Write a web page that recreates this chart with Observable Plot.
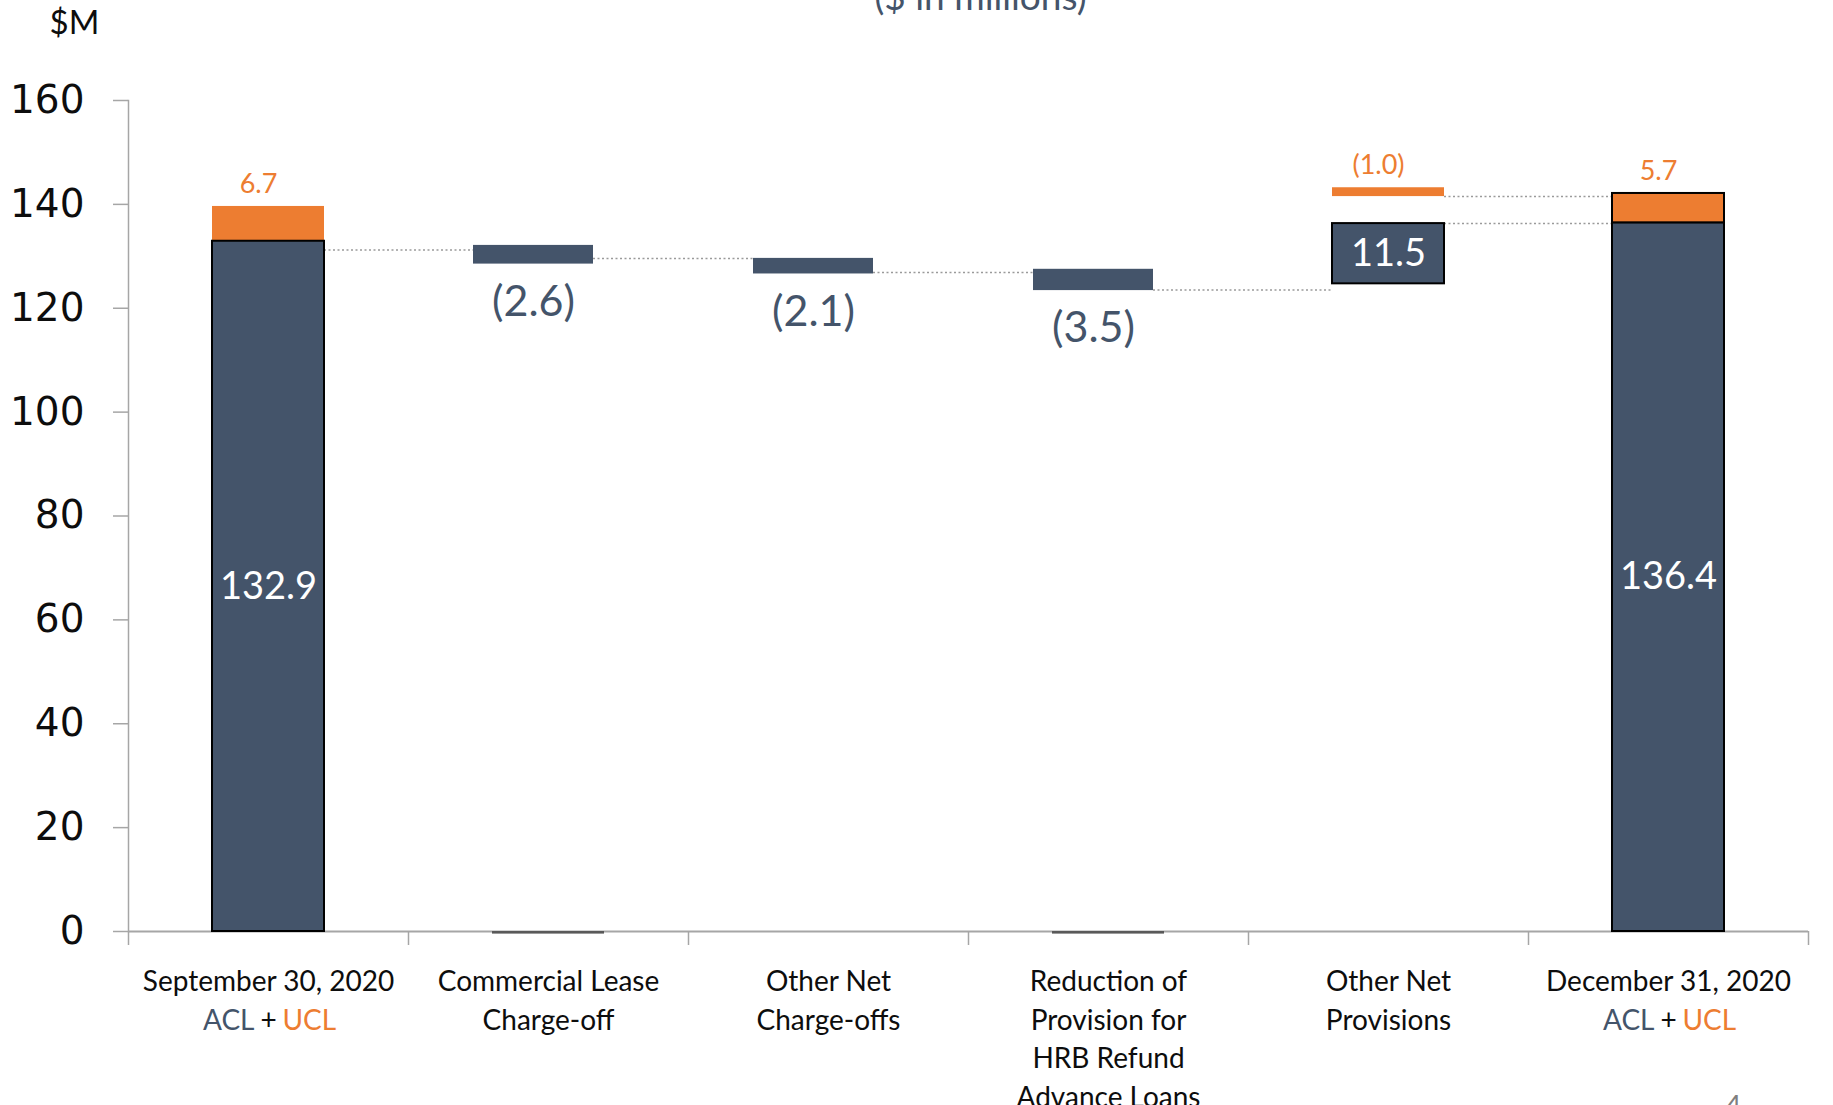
<!DOCTYPE html>
<html><head><meta charset="utf-8">
<script src="https://cdn.jsdelivr.net/npm/d3@7"></script>
<script src="https://cdn.jsdelivr.net/npm/@observablehq/plot@0.6"></script>
<style>
html,body{margin:0;padding:0;background:#fff;overflow:hidden}
#chart svg{display:block}
</style></head><body><div id="chart"></div>
<script>
// ---- data ----
const categories = ["Sep30", "CommLease", "OtherNCO", "HRB", "OtherProv", "Dec31"];
const categoryLabels = ["September 30, 2020", "Commercial Lease\nCharge-off", "Other Net\nCharge-offs", "Reduction of\nProvision for\nHRB Refund\nAdvance Loans", "Other Net\nProvisions", "December 31, 2020"];
const stepKind = ["total", "decrease", "decrease", "decrease", "increase", "total"];
const aclLow = [0, 128.5, 126.6, 123.4, 124.7, 0];
const aclHigh = [132.9, 132.1, 129.6, 127.5, 136.3, 136.4];
const aclLabels = ["132.9", "(2.6)", "(2.1)", "(3.5)", "11.5", "136.4"];
const uclLow = [132.9, null, null, null, 141.5, 136.4];
const uclHigh = [139.6, null, null, null, 143.2, 142.1];
const uclLabels = ["6.7", null, null, null, "(1.0)", "5.7"];
const baseStub = [null, -0.5, null, -0.5, null, null];
const connectorFrom = [0, 1, 2, 3, 4, 4];
const connectorLevel = [131.2, 129.6, 126.9, 123.5, 141.5, 136.3];
const yTicks = [0, 20, 40, 60, 80, 100, 120, 140, 160];
const titleText = "($ in millions)";
const unitText = "$M";
const pageNumber = "4";

// ---- build rows ----
const rows = categories.map((c, i) => ({
  cat: c, label: categoryLabels[i], kind: stepKind[i],
  aclLow: aclLow[i], aclHigh: aclHigh[i], aclLabel: aclLabels[i],
  uclLow: uclLow[i], uclHigh: uclHigh[i], uclLabel: uclLabels[i], stub: baseStub[i]
}));
const uclRows = rows.filter(d => d.uclHigh != null);
const connectors = connectorFrom.map((f, i) => ({
  from: categories[f], to: categories[f + 1], y: connectorLevel[i],
  fromKind: stepKind[f], toKind: stepKind[f + 1]
}));

const NAVY = "#44546A", ORANGE = "#ED7D31", AXIS = "#A6A6A6", TEXT = "#0d0d0d";
const W = 1833, H = 1105, ML = 128, MR = 25, MT = 100, MB = 174;
const step = (W - ML - MR) / categories.length;
const bw = step * 0.4;
const SHIFT = -15; // floating decrease bars sit a little left of their band centre
const GROW = 4;    // and are a little wider
const isDec = k => k === "decrease";
const connStyle = {y: "y", x1: "from", x2: "to", stroke: "#9a9a9a", strokeWidth: 1.5, strokeDasharray: "2,2.5"};
const connMarks = [];
for (const fk of [true, false]) for (const tk of [true, false]) {
  const sel = connectors.filter(c => isDec(c.fromKind) === fk && isDec(c.toKind) === tk);
  if (!sel.length) continue;
  connMarks.push(Plot.ruleY(sel, {...connStyle,
    insetLeft: bw + (fk ? SHIFT + GROW : 0),
    insetRight: bw + (tk ? -SHIFT + GROW : 0)}));
}

const chart = Plot.plot({
  width: W, height: H,
  marginLeft: ML, marginRight: MR, marginTop: MT, marginBottom: MB,
  style: {fontFamily: "Lato, sans-serif", background: "#fff"},
  x: {type: "band", domain: categories, paddingInner: 0.6, paddingOuter: 0.3, axis: null},
  y: {domain: [0, 160], axis: null},
  marks: [
    Plot.frame({anchor: "left", stroke: AXIS, strokeWidth: 1.5}),
    Plot.axisY(yTicks, {tickSize: 15, tickPadding: 29, fontSize: 39, fontFamily: "DejaVu Sans", stroke: AXIS, strokeWidth: 1.5, fill: TEXT, tickFormat: d => String(d), label: null}),
    Plot.ruleX(categories, {x: d => d, y1: 0, y2: 0, insetBottom: -14, dx: -step / 2, stroke: AXIS, strokeWidth: 1.5}),
    Plot.ruleX(categories.slice(-1), {x: d => d, y1: 0, y2: 0, insetBottom: -14, dx: step / 2, stroke: AXIS, strokeWidth: 1.5}),
    Plot.ruleY([0], {stroke: AXIS, strokeWidth: 2}),
    Plot.barY(rows.filter(d => d.stub != null), {x: "cat", y1: 0, y2: "stub", fill: "#595959"}),
    // connectors
    ...connMarks,
    // UCL (orange) segments
    Plot.barY(uclRows.filter(d => d.cat !== "Dec31"), {x: "cat", y1: "uclLow", y2: "uclHigh", fill: ORANGE}),
    Plot.barY(uclRows.filter(d => d.cat === "Dec31"), {x: "cat", y1: "uclLow", y2: "uclHigh", fill: ORANGE, stroke: "#000", strokeWidth: 2}),
    // ACL (navy) segments
    Plot.barY(rows.filter(d => isDec(d.kind)), {x: "cat", y1: "aclLow", y2: "aclHigh", dx: SHIFT, insetLeft: -GROW, insetRight: -GROW, fill: NAVY}),
    Plot.barY(rows.filter(d => !isDec(d.kind)), {x: "cat", y1: "aclLow", y2: "aclHigh", fill: NAVY, stroke: "#000", strokeWidth: 2}),
    // value labels
    Plot.text(rows.filter(d => !isDec(d.kind)), {x: "cat", y: d => (d.aclLow + d.aclHigh) / 2, text: "aclLabel", fill: "#fff", fontSize: 38}),
    Plot.text(rows.filter(d => isDec(d.kind)), {x: "cat", y: "aclLow", text: "aclLabel", dx: SHIFT, dy: 38, fill: NAVY, fontSize: 43}),
    Plot.text(uclRows, {x: "cat", y: "uclHigh", text: "uclLabel", dx: -10, dy: -22, fill: ORANGE, fontSize: 27}),
    // category labels
    Plot.text(rows, {x: "cat", frameAnchor: "bottom", text: "label", dy: 32, lineAnchor: "top", lineHeight: 1.38, fontSize: 28, fill: TEXT}),
    Plot.text(rows.filter(d => d.kind === "total"), {x: "cat", frameAnchor: "bottom", text: () => "ACL", textAnchor: "end", dx: -14, dy: 78.6, lineAnchor: "top", fontSize: 28, fill: NAVY}),
    Plot.text(rows.filter(d => d.kind === "total"), {x: "cat", frameAnchor: "bottom", text: () => "+", dy: 78.6, lineAnchor: "top", fontSize: 28, fill: TEXT}),
    Plot.text(rows.filter(d => d.kind === "total"), {x: "cat", frameAnchor: "bottom", text: () => "UCL", textAnchor: "start", dx: 14, dy: 78.6, lineAnchor: "top", fontSize: 28, fill: ORANGE}),
    // unit, title, page number
    Plot.text([unitText], {frameAnchor: "top-left", text: d => d, textAnchor: "start", lineAnchor: "bottom", dx: -79, dy: -67, fontSize: 33, fill: TEXT}),
    Plot.text([titleText], {frameAnchor: "top", text: d => d, lineAnchor: "bottom", dx: 12, dy: -91, fontSize: 37, fill: NAVY}),
    Plot.text([pageNumber], {frameAnchor: "bottom-right", text: d => d, lineAnchor: "bottom", dx: -67, dy: 184, fontSize: 28, fill: "#7f7f7f"})
  ]
});
document.getElementById("chart").appendChild(chart);
</script>
</body></html>
